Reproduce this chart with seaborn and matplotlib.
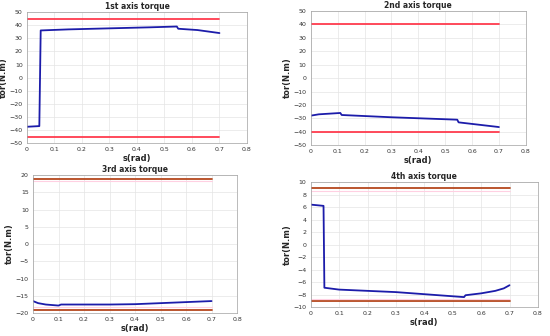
import matplotlib.pyplot as plt
import seaborn as sns
import numpy as np
import pandas as pd

sns.set_style('whitegrid')

# torque curves
s1 = [0, 0.045, 0.05, 0.15, 0.3, 0.45, 0.545, 0.55, 0.62, 0.7]
t1 = [-37.5, -37, 36, 36.8, 37.6, 38.4, 39, 37.3, 36.3, 34]
lim1 = 45

s2 = [0, 0.03, 0.11, 0.115, 0.3, 0.545, 0.55, 0.7]
t2 = [-28, -27, -26, -27.5, -29.2, -31, -33, -36.5]
lim2 = 40.5

s3 = [0, 0.02, 0.05, 0.1, 0.11, 0.2, 0.3, 0.4, 0.5, 0.6, 0.7]
t3 = [-16.5, -17.1, -17.5, -17.8, -17.5, -17.5, -17.5, -17.4, -17.1, -16.8, -16.5]
lim3 = 19

s4 = [0, 0.045, 0.048, 0.1, 0.3, 0.54, 0.545, 0.6, 0.65, 0.68, 0.7]
t4 = [6.4, 6.2, -6.9, -7.2, -7.6, -8.4, -8.1, -7.8, -7.4, -7.0, -6.5]
lim4 = 9

titles = ['1st axis torque', '2nd axis torque', '3rd axis torque', '4th axis torque']
boxes = [[0.049, 0.574, 0.40, 0.39],
         [0.565, 0.568, 0.391, 0.399],
         [0.060, 0.068, 0.371, 0.411],
         [0.565, 0.086, 0.413, 0.372]]
yranges = [(-50, 50, 10), (-50, 50, 10), (-20, 20, 5), (-10, 10, 2)]
limcols = ['#ff3b4e', '#ff3b4e', '#b5481e', '#b5481e']

fig = plt.figure(figsize=(5.5, 3.36), dpi=100)

series = [(s1, t1, lim1), (s2, t2, lim2), (s3, t3, lim3), (s4, t4, lim4)]
for i, (s, t, lim) in enumerate(series):
    ax = fig.add_axes(boxes[i])
    df = pd.DataFrame({'s': s, 't': t})
    sns.lineplot(data=df, x='s', y='t', ax=ax, color='#1c1caa', lw=1.3,
                 estimator=None, sort=False)
    lims = pd.DataFrame({'s': [0, 0.7], 'up': [lim, lim], 'lo': [-lim, -lim]})
    sns.lineplot(data=lims, x='s', y='up', ax=ax, color=limcols[i], lw=1.3)
    sns.lineplot(data=lims, x='s', y='lo', ax=ax, color=limcols[i], lw=1.3)
    if i >= 2:
        # faint pink band beside the limit lines
        ax.plot([0, 0.7], [lim * 0.96, lim * 0.96], color='#ffd0e2', lw=0.8)
        ax.plot([0, 0.7], [-lim * 0.96, -lim * 0.96], color='#ffd0e2', lw=0.8)
    lo, hi, st = yranges[i]
    ax.set_xlim(0, 0.8)
    ax.set_ylim(lo, hi)
    ax.set_xticks(np.arange(0, 0.81, 0.1))
    ax.set_xticklabels(['0'] + ['%.1f' % v for v in np.arange(0.1, 0.81, 0.1)])
    ax.set_yticks(np.arange(lo, hi + 1, st))
    ax.tick_params(labelsize=4.5, length=1.5, pad=1.5, colors='#333333')
    ax.grid(True, ls='-', color='#e4e4e4', lw=0.5)
    for sp in ax.spines.values():
        sp.set_color('#a0a0a0')
        sp.set_linewidth(0.5)
    ax.set_title(titles[i], fontsize=5.5, fontweight='bold', pad=2)
    ax.set_xlabel('s(rad)', fontsize=6, fontweight='bold', labelpad=1)
    ax.set_ylabel('tor(N.m)', fontsize=6, fontweight='bold', labelpad=1)

plt.savefig('out.png', dpi=100)
